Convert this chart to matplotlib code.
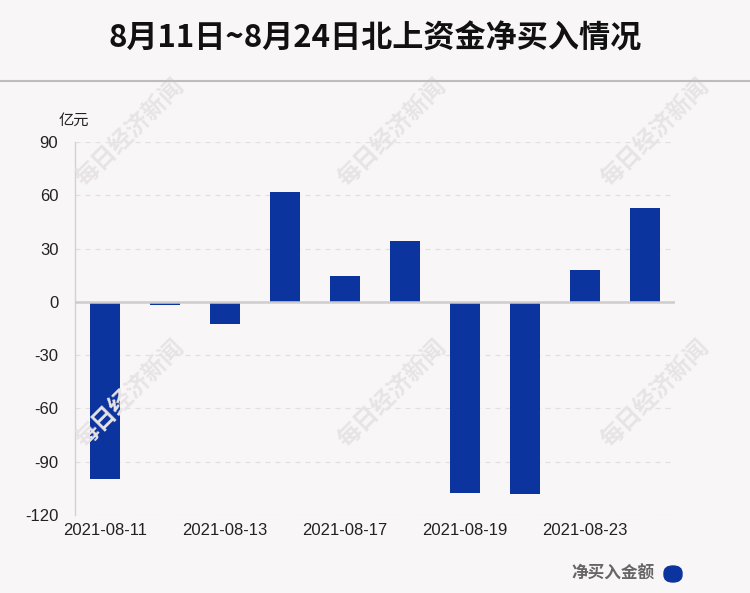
import matplotlib.pyplot as plt
from matplotlib.patches import FancyBboxPatch

plt.rcParams['font.family'] = ['Liberation Sans', 'Noto Sans CJK SC', 'DejaVu Sans']

# data (亿元)
dates = ['2021-08-11', '2021-08-12', '2021-08-13', '2021-08-16', '2021-08-17',
         '2021-08-18', '2021-08-19', '2021-08-20', '2021-08-23', '2021-08-24']
net_buy = [-100.0, -1.9, -12.2, 61.9, 14.5, 34.1, -107.6, -108.2, 17.8, 52.8]
yticks = [90, 60, 30, 0, -30, -60, -90, -120]

bg = '#f9f6f7'
bar_color = '#0c349f'

fig = plt.figure(figsize=(7.5, 5.93), dpi=100, facecolor=bg)
ax = fig.add_axes([0.1, 0.1315, 0.8, 0.629])
ax.set_facecolor(bg)

x = list(range(len(dates)))
ax.bar(x, net_buy, width=0.5, color=bar_color, zorder=3)

ax.set_xlim(-0.5, len(dates) - 0.5)
ax.set_ylim(-120, 90)
ax.set_yticks(yticks)
ax.set_yticklabels([str(v) for v in yticks])
ax.set_xticks(x[::2])
ax.set_xticklabels(dates[::2])
ax.tick_params(axis='both', length=0, labelsize=12, colors='#222222')
ax.tick_params(axis='y', pad=12)
ax.tick_params(axis='x', pad=6)

for v in yticks:
    if v != 0:
        ax.axhline(v, color='#e2dfe0', lw=0.9, ls=(0, (4, 4)), zorder=1)
ax.axhline(0, color='#cfcccd', lw=1.8, zorder=4)

for s in ['top', 'right', 'bottom']:
    ax.spines[s].set_visible(False)
ax.spines['left'].set_color('#d4d1d2')
ax.spines['left'].set_linewidth(1)

fig.text(0.099, 0.797, '亿元', family=['Noto Sans CJK SC', 'DejaVu Sans'],
         fontsize=11, color='#222222', ha='center', va='center')

# title and separator
fig.text(0.5, 0.935, '8月11日~8月24日北上资金净买入情况',
         family=['Noto Sans CJK SC', 'DejaVu Sans'], fontsize=22.4, fontweight='bold',
         ha='center', va='center', color='#111111')
fig.add_artist(plt.Line2D([0, 1], [1 - 81 / 593, 1 - 81 / 593], color='#bfbcbd', lw=1.5,
                          transform=fig.transFigure))

# watermarks
for cx in [130, 392, 655]:
    for cy in [132, 393]:
        fig.text(cx / 750, 1 - cy / 593, '每日经济新闻', family=['Noto Sans CJK SC', 'DejaVu Sans'],
                 fontsize=17, fontweight='bold', color='#e8e4e5', rotation=45,
                 ha='center', va='center', zorder=0)

# legend
fig.text(655 / 750, 1 - 574 / 593, '净买入金额', family=['Noto Sans CJK SC', 'DejaVu Sans'],
         fontsize=12, fontweight='bold', color='#666666', ha='right', va='center')
fig.add_artist(FancyBboxPatch((664 / 750, 1 - 582 / 593), 18 / 750, 16 / 593,
                              boxstyle='round,pad=0,rounding_size=0.012',
                              transform=fig.transFigure, color=bar_color))

plt.savefig('out.png', dpi=100, facecolor=bg)
